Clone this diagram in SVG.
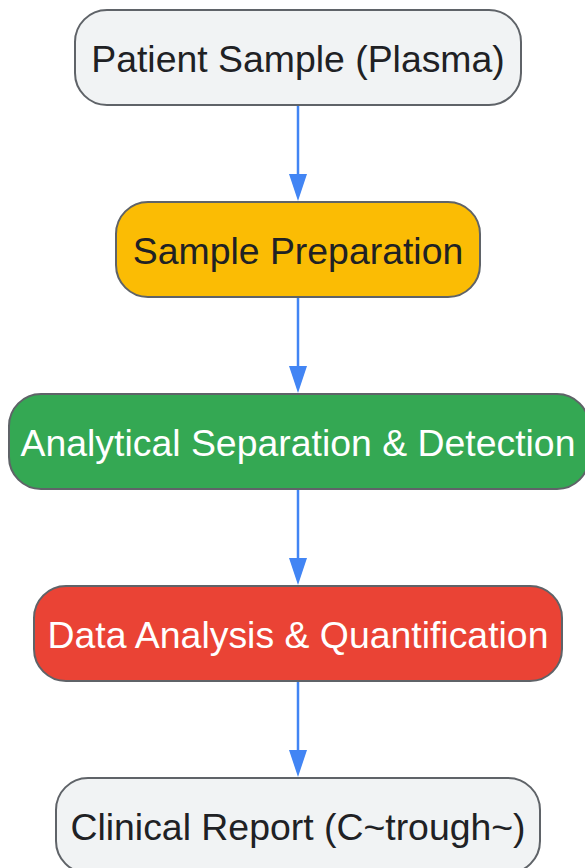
<svg xmlns="http://www.w3.org/2000/svg" width="585" height="868" viewBox="0 0 585 868">
<style>
.n{stroke:#5f6368;stroke-width:2}
.t{font-family:"Liberation Sans",Arial,sans-serif;font-size:37.4px;text-anchor:middle}
.d{fill:#202124}
.w{fill:#ffffff}
.e{stroke:#4285f4;stroke-width:2.5;fill:none;marker-end:url(#ah)}
</style>
<defs>
<marker id="ah" viewBox="0 0 27 18" refX="16" refY="9" markerWidth="27" markerHeight="18" markerUnits="userSpaceOnUse" orient="auto">
<path d="M0,0 L27,9 L0,18 z" fill="#4285f4"/>
</marker>
</defs>
<rect width="585" height="868" fill="#ffffff"/>
<g id="connectors">
<path class="e" d="M298,106 V190"/>
<path class="e" d="M298,298 V382"/>
<path class="e" d="M298,490 V574"/>
<path class="e" d="M298,682 V766"/>
</g>
<g id="n1">
<rect class="n" x="75" y="10" width="446" height="95" rx="32" fill="#f1f3f4"/>
<text class="t d" x="298" y="72">Patient Sample (Plasma)</text>
</g>
<g id="n2">
<rect class="n" x="116" y="202" width="364" height="95" rx="32" fill="#fbbc04"/>
<text class="t d" x="298" y="264">Sample Preparation</text>
</g>
<g id="n3">
<rect class="n" x="9" y="394" width="580" height="95" rx="32" fill="#34a853"/>
<text class="t w" x="298" y="456">Analytical Separation &amp; Detection</text>
</g>
<g id="n4">
<rect class="n" x="34" y="586" width="528" height="95" rx="32" fill="#ea4335"/>
<text class="t w" x="298" y="648">Data Analysis &amp; Quantification</text>
</g>
<g id="n5">
<rect class="n" x="56" y="778" width="484" height="95" rx="32" fill="#f1f3f4"/>
<text class="t d" x="298" y="840">Clinical Report (C~trough~)</text>
</g>
</svg>
